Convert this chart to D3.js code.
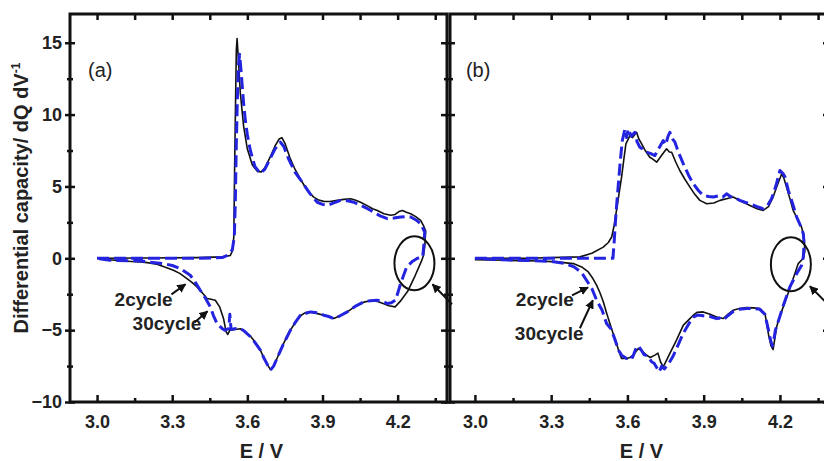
<!DOCTYPE html>
<html>
<head>
<meta charset="utf-8">
<script src="https://cdn.jsdelivr.net/npm/d3@7"></script>
<style>
  body { margin: 0; background: #fff; }
  svg { display: block; font-family: "Liberation Sans", Arial, sans-serif; }
</style>
</head>
<body>
<div class="canvas"></div>
<script>
// x ticks (E / V) and y ticks (dQ/dV)
const majorX = [3.0, 3.3, 3.6, 3.9, 4.2]
const minorX = [3.15, 3.45, 3.75, 4.05, 4.35]
const majorY = [-10, -5, 0, 5, 10, 15]
const minorY = [-7.5, -2.5, 2.5, 7.5, 12.5]

// panel (a): 2nd cycle, charge then discharge  [E, dQ/dV]
const a2cycle = [
  [3.0,0],[3.2,0.02],[3.4,0.05],[3.5,0.1],[3.532,0.2],[3.54,0.5],[3.546,1.5],[3.549,6],[3.553,11],[3.556,14.5],
  [3.559,15.3],[3.563,14.2],[3.572,11.5],[3.585,9.2],[3.6,7.6],[3.62,6.5],[3.64,6.05],[3.655,6.0],[3.67,6.3],
  [3.69,7.0],[3.71,7.8],[3.727,8.3],[3.738,8.4],[3.75,8.0],[3.77,7.0],[3.79,6.2],[3.812,5.5],[3.84,4.7],
  [3.865,4.26],[3.885,4.05],[3.905,3.96],[3.93,3.95],[3.959,4.03],[3.985,4.1],[4.012,4.14],[4.03,4.05],
  [4.052,3.9],[4.08,3.65],[4.1,3.45],[4.119,3.33],[4.145,3.1],[4.172,3.0],[4.19,3.05],[4.205,3.25],[4.219,3.33],
  [4.235,3.2],[4.252,3.1],[4.272,2.9],[4.292,2.64],[4.305,2.2],[4.312,1.9],[4.308,0.8],[4.303,0.2],
  [4.295,-0.2],[4.27,-1.2],[4.24,-2.3],[4.21,-3.0],[4.19,-3.38],[4.165,-3.3],[4.15,-3.2],[4.12,-3.0],
  [4.09,-2.95],[4.065,-3.05],[4.03,-3.35],[3.999,-3.73],[3.97,-4.0],[3.945,-4.19],[3.925,-4.05],[3.905,-3.96],
  [3.88,-3.85],[3.852,-3.73],[3.83,-3.8],[3.812,-4.0],[3.79,-4.5],[3.772,-5.0],[3.745,-5.9],[3.72,-6.9],
  [3.705,-7.5],[3.692,-7.75],[3.68,-7.4],[3.665,-6.9],[3.652,-6.39],[3.63,-5.8],[3.612,-5.4],[3.59,-5.1],
  [3.572,-4.9],[3.55,-4.95],[3.53,-5.0],[3.522,-5.3],[3.515,-5.1],[3.505,-4.2],[3.49,-3.4],[3.472,-2.92],
  [3.455,-2.85],[3.439,-2.8],[3.42,-2.4],[3.399,-1.99],[3.38,-1.7],[3.359,-1.41],[3.33,-1.05],[3.305,-0.83],
  [3.27,-0.6],[3.239,-0.42],[3.2,-0.3],[3.172,-0.26],[3.104,-0.19],[3.05,-0.1],[3.0,0]
]

// panel (a): 30th cycle
const a30cycle = [
  [3.0,0],[3.2,0],[3.4,0],[3.5,0.05],[3.52,0.2],[3.53,0.4],[3.54,0.6],[3.548,1.5],[3.552,4],[3.556,8],
  [3.56,11],[3.565,13.5],[3.569,14.2],[3.575,13],[3.585,10.8],[3.592,9.6],[3.6,8.6],[3.612,7.5],[3.63,6.4],
  [3.652,5.9],[3.67,6.2],[3.69,6.9],[3.71,7.6],[3.732,8.08],[3.745,7.8],[3.765,6.9],[3.79,6.0],[3.819,5.3],
  [3.85,4.5],[3.879,3.9],[3.9,3.75],[3.919,3.68],[3.945,3.85],[3.972,4.03],[4.0,4.0],[4.025,3.9],[4.05,3.7],
  [4.08,3.45],[4.105,3.22],[4.13,2.95],[4.159,2.76],[4.185,2.8],[4.212,2.87],[4.235,2.9],[4.252,2.87],
  [4.275,2.65],[4.292,2.4],[4.308,1.83],[4.305,1.0],[4.3,0.1],
  [4.279,0],[4.26,-0.2],[4.236,-0.6],[4.212,-1.75],[4.192,-2.9],[4.175,-3.1],[4.159,-3.15],[4.14,-3.0],
  [4.119,-2.92],[4.09,-2.95],[4.065,-3.03],[4.03,-3.35],[3.999,-3.73],[3.97,-4.0],[3.945,-4.19],[3.925,-4.05],
  [3.905,-3.96],[3.88,-3.8],[3.852,-3.73],[3.83,-3.85],[3.812,-3.96],[3.79,-4.5],[3.772,-5.0],[3.745,-5.93],
  [3.72,-6.9],[3.705,-7.5],[3.692,-7.78],[3.68,-7.4],[3.665,-6.9],[3.652,-6.39],[3.63,-5.85],[3.612,-5.46],
  [3.59,-5.1],[3.572,-4.88],[3.55,-4.9],[3.535,-4.95],[3.53,-3.9],[3.526,-4.9],[3.51,-5.0],[3.499,-4.88],
  [3.479,-4.54],[3.465,-4.0],[3.452,-3.38],[3.43,-2.7],[3.412,-2.22],[3.39,-1.6],[3.372,-1.18],[3.332,-0.72],
  [3.3,-0.5],[3.265,-0.37],[3.172,-0.19],[3.052,-0.14],[3.0,0]
]

// panel (b): 2nd cycle
const b2cycle = [
  [3.0,0],[3.2,0],[3.413,0.1],[3.46,0.35],[3.505,0.78],[3.525,1.1],[3.538,1.48],[3.548,2.3],[3.557,3.33],
  [3.567,4.5],[3.577,5.65],[3.586,6.9],[3.594,7.96],[3.61,8.54],[3.62,8.4],[3.636,8.77],[3.645,8.3],
  [3.656,7.96],[3.67,7.5],[3.688,7.03],[3.7,6.9],[3.715,6.69],[3.734,7.15],[3.754,7.62],[3.765,7.4],
  [3.774,7.38],[3.79,6.7],[3.806,6.11],[3.826,5.5],[3.846,4.95],[3.865,4.45],[3.885,4.03],[3.912,3.8],
  [3.94,3.85],[3.964,4.03],[3.99,4.15],[4.016,4.26],[4.05,3.95],[4.082,3.68],[4.11,3.45],[4.134,3.33],
  [4.155,3.6],[4.173,4.26],[4.19,5.1],[4.207,5.88],[4.215,5.6],[4.226,4.95],[4.24,4.1],[4.252,3.33],
  [4.27,2.7],[4.285,2.17],[4.295,1.5],[4.298,0.5],[4.292,0],
  [4.272,-0.37],[4.239,-2.1],[4.213,-3.38],[4.195,-4.3],[4.187,-4.77],[4.178,-5.8],[4.173,-6.35],[4.165,-6.1],
  [4.155,-5.3],[4.141,-3.84],[4.121,-3.5],[4.095,-3.45],[4.069,-3.43],[4.04,-3.5],[4.016,-3.61],[3.995,-3.9],
  [3.977,-4.19],[3.951,-4.08],[3.925,-3.9],[3.898,-3.73],[3.875,-3.75],[3.859,-3.96],[3.84,-4.3],[3.82,-4.65],
  [3.793,-5.69],[3.767,-6.62],[3.741,-7.55],[3.73,-7.2],[3.72,-6.6],[3.708,-6.74],[3.69,-6.9],[3.675,-6.74],
  [3.66,-6.5],[3.643,-6.27],[3.633,-6.5],[3.623,-6.74],[3.61,-6.9],[3.597,-6.97],[3.577,-6.97],[3.567,-6.5],
  [3.557,-5.93],[3.545,-5.3],[3.531,-4.54],[3.518,-3.8],[3.505,-3.03],[3.492,-2.4],[3.479,-1.88],[3.462,-1.35],
  [3.446,-0.95],[3.42,-0.6],[3.387,-0.37],[3.32,-0.25],[3.256,-0.19],[3.125,-0.14],[3.0,-0.09]
]

// panel (b): 30th cycle
const b30cycle = [
  [3.0,0],[3.2,0],[3.4,0],[3.543,0],[3.548,1.2],[3.553,2.6],[3.558,3.8],[3.565,5.3],[3.572,6.8],[3.58,8.2],
  [3.59,9.0],[3.597,8.4],[3.603,9.0],[3.615,8.5],[3.629,8.77],[3.638,8.1],[3.649,7.73],[3.66,7.6],[3.675,7.38],
  [3.69,7.3],[3.708,7.15],[3.725,7.7],[3.741,8.19],[3.75,7.9],[3.76,8.5],[3.767,8.77],[3.778,8.3],[3.787,8.08],
  [3.8,7.4],[3.82,6.57],[3.84,5.8],[3.859,5.19],[3.88,4.7],[3.898,4.38],[3.92,4.3],[3.938,4.26],[3.96,4.35],
  [3.975,4.25],[3.99,4.49],[4.005,4.3],[4.02,4.25],[4.042,4.03],[4.062,3.9],[4.082,3.8],[4.11,3.6],[4.134,3.45],
  [4.152,3.7],[4.167,4.14],[4.185,5.1],[4.2,6.11],[4.212,5.9],[4.22,5.65],[4.233,4.72],[4.25,3.8],[4.266,2.87],
  [4.28,2.3],[4.292,1.71],[4.295,1.0],[4.292,0.1],
  [4.285,-0.5],[4.266,-1.06],[4.239,-1.99],[4.213,-3.3],[4.195,-4.3],[4.182,-5.0],[4.175,-5.8],[4.17,-6.1],
  [4.163,-5.7],[4.155,-5.0],[4.141,-3.9],[4.121,-3.55],[4.095,-3.5],[4.069,-3.5],[4.04,-3.55],[4.016,-3.7],
  [3.995,-4.0],[3.977,-4.3],[3.962,-4.15],[3.951,-4.2],[3.925,-4.05],[3.898,-4.0],[3.875,-3.95],[3.859,-4.1],
  [3.84,-4.6],[3.82,-5.2],[3.8,-6.0],[3.78,-6.8],[3.76,-7.4],[3.745,-7.7],[3.735,-7.5],[3.725,-7.9],
  [3.715,-7.6],[3.705,-7.3],[3.695,-7.2],[3.68,-6.8],[3.665,-6.7],[3.655,-6.4],[3.643,-6.1],[3.636,-6.16],
  [3.62,-6.9],[3.605,-6.8],[3.597,-6.97],[3.577,-6.74],[3.565,-6.4],[3.55,-5.6],[3.535,-4.9],[3.518,-4.54],
  [3.5,-3.6],[3.479,-2.92],[3.46,-2.1],[3.439,-1.53],[3.42,-1.0],[3.39,-0.6],[3.35,-0.35],[3.3,-0.22],
  [3.2,-0.15],[3.1,-0.1],[3.0,0]
]

const panels = [
  {name: '(a)', left: 70, right: 447, domain: [2.892, 4.397], black: a2cycle, blue: a30cycle, showY: true,
   notes: {c2: [3.070, -3.34], c30: [3.142, -5.01], a2: [[3.297, -2.51], [3.353, -1.81]],
           a30: [[3.389, -4.46], [3.441, -3.69]], ring: [4.267, -0.35], ringArrow: [[4.417, -3.2], [4.339, -1.81]]}},
  {name: '(b)', left: 450, right: 829, domain: [2.902, 4.393], black: b2cycle, blue: b30cycle, showY: false,
   notes: {c2: [3.161, -3.34], c30: [3.157, -5.71], a2: [[3.382, -2.58], [3.445, -2.02]],
           a30: [[3.413, -4.87], [3.464, -2.92]], ring: [4.243, -0.42], ringArrow: [[4.381, -3.06], [4.318, -1.95]]}}
]

const width = 824
const height = 461
const plotTop = 14
const plotBottom = 402
const blue = '#2424e0'
const ink = '#111'

const svg = d3.select('.canvas').append('svg')
  .attr('width', width)
  .attr('height', height)

svg.append('defs').append('marker')
  .attr('id', 'head')
  .attr('viewBox', '0 0 10 10')
  .attr('refX', 9).attr('refY', 5)
  .attr('markerWidth', 4.5).attr('markerHeight', 4.5)
  .attr('orient', 'auto')
  .append('path')
  .attr('d', 'M0,0 L10,5 L0,10 z')
  .attr('fill', ink)

const y = d3.scaleLinear().domain([-10, 17]).range([plotBottom, plotTop])

panels.forEach((p, i) => {
  const x = d3.scaleLinear().domain(p.domain).range([p.left, p.right])
  const g = svg.append('g')

  g.append('clipPath').attr('id', `clip${i}`)
    .append('rect')
    .attr('x', p.left).attr('y', plotTop)
    .attr('width', p.right - p.left).attr('height', plotBottom - plotTop)

  const line = d3.line().x(d => x(d[0])).y(d => y(d[1]))
  const plot = g.append('g').attr('clip-path', `url(#clip${i})`)
  plot.append('path')
    .attr('d', line(p.black))
    .attr('fill', 'none').attr('stroke', ink).attr('stroke-width', 1.6)
    .attr('stroke-linejoin', 'round')
  plot.append('path')
    .attr('d', line(p.blue))
    .attr('fill', 'none').attr('stroke', blue).attr('stroke-width', 3)
    .attr('stroke-dasharray', '12,5').attr('stroke-linejoin', 'round')

  // axes
  g.append('g').attr('transform', `translate(0,${plotBottom})`)
    .call(d3.axisBottom(x).tickValues(majorX).tickSizeInner(-7).tickSizeOuter(0)
      .tickPadding(13).tickFormat(d3.format('.1f')))
  g.append('g').attr('transform', `translate(0,${plotBottom})`)
    .call(d3.axisBottom(x).tickValues(minorX).tickSizeInner(-4).tickSizeOuter(0).tickFormat(''))
  g.append('g').attr('transform', `translate(0,${plotTop})`)
    .call(d3.axisTop(x).tickValues(majorX.concat(minorX)).tickSizeInner(-6).tickSizeOuter(0).tickFormat(''))

  const yAxis = g.append('g').attr('transform', `translate(${p.left},0)`)
    .call(d3.axisLeft(y).tickValues(majorY).tickSizeInner(5).tickSizeOuter(0).tickPadding(3)
      .tickFormat(p.showY ? d3.format('d') : ''))
  yAxis.selectAll('line').attr('x1', 5)
  const yMinor = g.append('g').attr('transform', `translate(${p.left},0)`)
    .call(d3.axisLeft(y).tickValues(minorY).tickSizeInner(3).tickSizeOuter(0).tickFormat(''))
  yMinor.selectAll('line').attr('x1', 3)
  g.append('g').attr('transform', `translate(${p.right},0)`)
    .call(d3.axisRight(y).tickValues(majorY).tickSizeInner(-6).tickSizeOuter(0).tickFormat(''))
  g.append('g').attr('transform', `translate(${p.right},0)`)
    .call(d3.axisRight(y).tickValues(minorY).tickSizeInner(-3).tickSizeOuter(0).tickFormat(''))

  g.selectAll('.domain').remove()
  g.selectAll('.tick line').attr('stroke', ink).attr('stroke-width', 2.5)
  g.selectAll('.tick text')
    .attr('fill', '#222')
    .style('font-size', '18px')
    .style('font-weight', 'bold')
    .style('font-family', '"Liberation Sans", Arial, sans-serif')

  g.append('rect')
    .attr('x', p.left).attr('y', plotTop)
    .attr('width', p.right - p.left).attr('height', plotBottom - plotTop)
    .attr('fill', 'none').attr('stroke', ink).attr('stroke-width', 3)

  g.append('text')
    .attr('x', x(3.0) - 9).attr('y', 77)
    .style('font-size', '20px').attr('fill', '#222')
    .text(p.name)

  g.append('text')
    .attr('x', x(3.6) + 14).attr('y', 458)
    .attr('text-anchor', 'middle')
    .style('font-size', '20px').style('font-weight', 'bold').attr('fill', '#222')
    .text('E / V')

  // annotations
  const n = p.notes
  const label = (pos, txt) => g.append('text')
    .attr('x', x(pos[0])).attr('y', y(pos[1]))
    .style('font-size', '19px').style('font-weight', 'bold').attr('fill', '#222')
    .text(txt)
  label(n.c2, '2cycle')
  label(n.c30, '30cycle')
  const arrow = seg => g.append('line')
    .attr('x1', x(seg[0][0])).attr('y1', y(seg[0][1]))
    .attr('x2', x(seg[1][0])).attr('y2', y(seg[1][1]))
    .attr('stroke', ink).attr('stroke-width', 2)
    .attr('marker-end', 'url(#head)')
  arrow(n.a2)
  arrow(n.a30)
  arrow(n.ringArrow)
  g.append('ellipse')
    .attr('cx', x(n.ring[0])).attr('cy', y(n.ring[1]))
    .attr('rx', 20).attr('ry', 27)
    .attr('fill', 'none').attr('stroke', ink).attr('stroke-width', 2)
})

svg.append('text')
  .attr('transform', 'translate(28,198) rotate(-90)')
  .attr('text-anchor', 'middle')
  .style('font-size', '20px').style('font-weight', 'bold').attr('fill', '#222')
  .text('Differential capacity/ dQ dV')
  .append('tspan')
  .attr('dy', -8)
  .style('font-size', '12px')
  .text('-1')
</script>
</body>
</html>
